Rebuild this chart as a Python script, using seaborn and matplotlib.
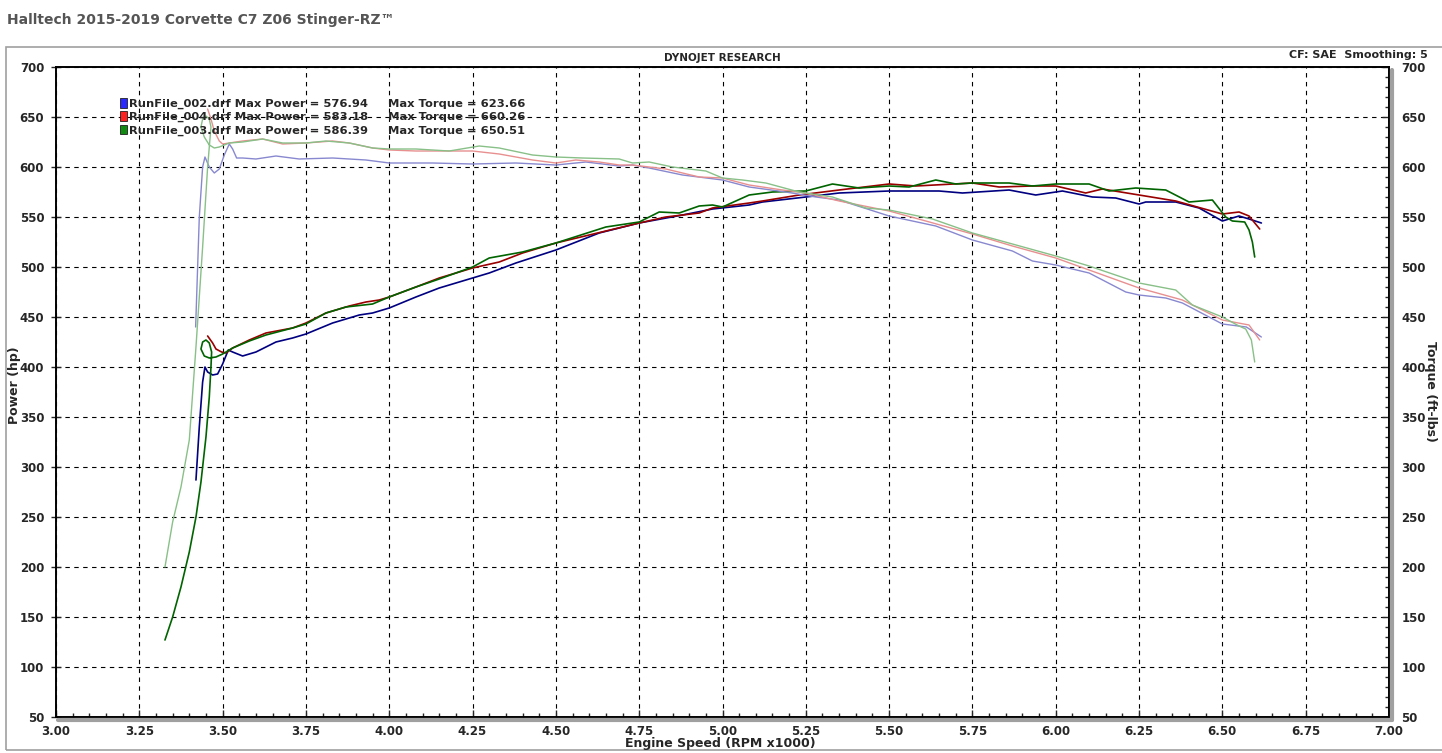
import seaborn as sns
import matplotlib.pyplot as plt
from matplotlib.patches import Patch, Rectangle
from matplotlib.lines import Line2D
from matplotlib.ticker import MultipleLocator, FormatStrFormatter

sns.set_style('white')
plt.rcParams['font.family'] = ['DejaVu Sans']
plt.rcParams['font.weight'] = 'bold'

# RunFile_002 (blue)
rpm_002_hp = [3.42, 3.43, 3.44, 3.447, 3.455, 3.47, 3.485, 3.50, 3.517, 3.53, 3.56, 3.60, 3.66, 3.71, 3.75, 3.83,
              3.91, 3.95, 4.0, 4.08, 4.15, 4.25, 4.30, 4.38, 4.5, 4.63, 4.75, 4.88, 4.97, 5.08, 5.12, 5.25, 5.35,
              5.5, 5.65, 5.72, 5.86, 5.94, 6.02, 6.11, 6.18, 6.25, 6.27, 6.36, 6.43, 6.5, 6.55, 6.58, 6.617]
hp_002 = [287, 340, 385, 400, 395, 392, 393, 403, 417, 415, 411, 415, 425, 429, 433, 444,
          452, 454, 459, 470, 479, 489, 494, 504, 517, 534, 544, 552, 558, 562, 565, 570, 574,
          576, 576, 574, 577, 572, 576, 570, 569, 563, 565, 565, 559, 546, 551, 548, 544]
rpm_002_tq = [3.419, 3.425, 3.43, 3.44, 3.447, 3.46, 3.475, 3.49, 3.505, 3.52, 3.53, 3.542, 3.56, 3.60, 3.66,
              3.73, 3.83, 3.93, 4.0, 4.13, 4.25, 4.38, 4.5, 4.59, 4.69, 4.73, 4.78, 4.88, 5.0, 5.08, 5.19,
              5.28, 5.35, 5.5, 5.64, 5.75, 5.87, 5.93, 6.0, 6.10, 6.21, 6.25, 6.33, 6.38, 6.5, 6.572, 6.617]
tq_002 = [440, 500, 550, 600, 610, 600, 594, 598, 612, 623, 618, 609, 609, 608, 611,
          608, 609, 607, 604, 604, 603, 604, 602, 605, 601, 602, 599, 592, 587, 580, 575,
          570, 567, 551, 541, 527, 516, 506, 502, 494, 475, 472, 469, 464, 443, 440, 430]

# RunFile_004 (red)
rpm_004_hp = [3.455, 3.47, 3.48, 3.497, 3.51, 3.53, 3.58, 3.63, 3.71, 3.75, 3.81, 3.88, 3.93, 3.97, 4.0, 4.08,
              4.15, 4.25, 4.33, 4.40, 4.5, 4.60, 4.75, 4.83, 4.93, 4.97, 5.08, 5.12, 5.23, 5.35, 5.5, 5.58,
              5.75, 5.83, 5.93, 6.0, 6.09, 6.14, 6.25, 6.36, 6.5, 6.55, 6.58, 6.612]
hp_004 = [431, 424, 418, 415, 414, 419, 427, 434, 439, 444, 454, 461, 465, 467, 470, 480,
          489, 499, 505, 514, 524, 532, 544, 550, 554, 559, 564, 566, 572, 577, 583, 581,
          584, 580, 581, 581, 574, 578, 572, 566, 553, 555, 551, 538]
rpm_004_tq = [3.455, 3.465, 3.475, 3.49, 3.50, 3.56, 3.62, 3.68, 3.75, 3.83, 3.88, 3.95, 4.0, 4.08, 4.18,
              4.25, 4.33, 4.43, 4.5, 4.56, 4.63, 4.69, 4.73, 4.83, 4.93, 5.0, 5.08, 5.18, 5.25, 5.35,
              5.5, 5.61, 5.75, 5.87, 6.0, 6.10, 6.25, 6.38, 6.5, 6.58, 6.612]
tq_004 = [658, 648, 636, 626, 623, 626, 628, 623, 624, 626, 624, 619, 617, 616, 616,
          616, 613, 607, 604, 607, 605, 602, 602, 598, 590, 589, 582, 577, 574, 566,
          556, 546, 533, 521, 509, 497, 479, 467, 447, 442, 427]

# RunFile_003 (green)
rpm_003_hp = [3.327, 3.35, 3.375, 3.40, 3.42, 3.435, 3.45, 3.46, 3.465, 3.467, 3.46, 3.45, 3.44, 3.435, 3.445,
              3.46, 3.48, 3.50, 3.53, 3.58, 3.63, 3.71, 3.75, 3.81, 3.87, 3.95, 4.0, 4.08, 4.15, 4.25, 4.30,
              4.40, 4.5, 4.65, 4.75, 4.81, 4.87, 4.93, 4.97, 5.0, 5.08, 5.15, 5.25, 5.33, 5.41, 5.5, 5.56,
              5.64, 5.70, 5.75, 5.86, 5.93, 6.0, 6.10, 6.16, 6.24, 6.33, 6.40, 6.47, 6.51, 6.53, 6.567,
              6.58, 6.59, 6.597]
hp_003 = [127, 150, 180, 215, 250, 285, 330, 370, 400, 415, 424, 427, 425, 418, 411,
          409, 410, 413, 419, 426, 432, 439, 443, 454, 460, 463, 470, 480, 488, 500, 509,
          515, 524, 540, 545, 555, 554, 561, 562, 560, 572, 575, 576, 583, 579, 581, 580,
          587, 583, 584, 584, 581, 583, 583, 576, 579, 577, 565, 567, 550, 546, 545,
          537, 525, 510]
rpm_003_tq = [3.327, 3.35, 3.375, 3.40, 3.42, 3.44, 3.455, 3.465, 3.46, 3.45, 3.44, 3.435, 3.445, 3.46, 3.475,
              3.49, 3.52, 3.56, 3.62, 3.68, 3.75, 3.81, 3.88, 3.95, 4.0, 4.08, 4.18, 4.27, 4.33, 4.43,
              4.5, 4.58, 4.69, 4.73, 4.78, 4.85, 4.95, 5.0, 5.06, 5.13, 5.23, 5.33, 5.43, 5.5, 5.63,
              5.75, 5.87, 6.0, 6.10, 6.25, 6.36, 6.41, 6.5, 6.55, 6.57, 6.587, 6.597]
tq_003 = [200, 245, 280, 327, 420, 520, 600, 640, 648, 651, 648, 640, 630, 622, 619,
          620, 624, 625, 628, 624, 624, 626, 624, 619, 618, 618, 616, 621, 619, 612,
          610, 609, 608, 604, 605, 600, 596, 589, 587, 584, 575, 570, 559, 557, 548,
          534, 523, 511, 501, 484, 477, 462, 450, 441, 438, 427, 405]

run_names = ['RunFile_002.drf', 'RunFile_004.drf', 'RunFile_003.drf']
max_power = ['576.94', '583.18', '586.39']
max_torque = ['623.66', '660.26', '650.51']

hp_colors = ['#000080', '#990000', '#006400']
tq_colors = ['#8888d0', '#e89090', '#88c088']
box_colors = ['#2828ff', '#ff2020', '#108a10']

W, H = 1442, 753
fig = plt.figure(figsize=(W / 100, H / 100), dpi=100)
ax = fig.add_axes([56 / W, 1 - 717 / H, (1389 - 56) / W, (717 - 67) / H])
ax2 = ax.twinx()

power_runs = [(rpm_002_hp, hp_002), (rpm_004_hp, hp_004), (rpm_003_hp, hp_003)]
torque_runs = [(rpm_002_tq, tq_002), (rpm_004_tq, tq_004), (rpm_003_tq, tq_003)]

for (x, y), c in zip(power_runs, hp_colors):
    sns.lineplot(x=x, y=y, ax=ax, color=c, lw=1.2, sort=False, estimator=None)
for (x, y), c in zip(torque_runs, tq_colors):
    sns.lineplot(x=x, y=y, ax=ax2, color=c, lw=1.0, sort=False, estimator=None)

for a in (ax, ax2):
    a.set_xlim(3.0, 7.0)
    a.set_ylim(50, 700)
    a.set_xlabel('')
    a.set_ylabel('')
    for s in a.spines.values():
        s.set_color('black')
        s.set_linewidth(1.2)

ax.xaxis.set_major_locator(MultipleLocator(0.25))
ax.xaxis.set_minor_locator(MultipleLocator(0.05))
ax.xaxis.set_major_formatter(FormatStrFormatter('%.2f'))
ax.yaxis.set_major_locator(MultipleLocator(50))
ax2.yaxis.set_major_locator(MultipleLocator(50))
ax2.yaxis.set_minor_locator(MultipleLocator(10))

ax.grid(True, which='major', color='black', ls=(0, (4, 4)), lw=0.8)
ax.set_axisbelow(True)
ax2.grid(False)

ax.tick_params(axis='x', which='major', direction='in', length=5, width=1, labelsize=8.5, pad=6, bottom=True)
ax.tick_params(axis='x', which='minor', direction='in', length=3, width=1, bottom=True)
ax.tick_params(axis='y', which='major', direction='inout', length=7, width=1, labelsize=8.5, pad=5, left=True)
ax2.tick_params(axis='y', which='major', direction='in', length=5, width=1, labelsize=8.5, pad=9, right=True)
ax2.tick_params(axis='y', which='minor', direction='in', length=3, width=1, right=True)

# grey drop shadow along bottom and right axes
fig.add_artist(Line2D([58 / W, 1391.5 / W], [1 - 719.5 / H, 1 - 719.5 / H],
                      transform=fig.transFigure, color='#a0a0a0', lw=3))
fig.add_artist(Line2D([1391.5 / W, 1391.5 / W], [1 - 70 / H, 1 - 719.5 / H],
                      transform=fig.transFigure, color='#a0a0a0', lw=3))

# outer panel frame
fig.add_artist(Rectangle((6 / W, 3 / H), 1.0, (750 - 47) / H, transform=fig.transFigure,
                         fill=False, edgecolor='#a0a0a0', lw=1.2))

fig.text(7 / W, 1 - 20 / H, 'Halltech 2015-2019 Corvette C7 Z06 Stinger-RZ\u2122',
         fontsize=10, color='#555555', ha='left', va='center')
fig.text(722 / W, 1 - 58 / H, 'DYNOJET RESEARCH', fontsize=7.5, ha='center', va='center')
fig.text(1428 / W, 1 - 55 / H, 'CF: SAE  Smoothing: 5', fontsize=8, ha='right', va='center')
fig.text(720 / W, 1 - 743 / H, 'Engine Speed (RPM x1000)', fontsize=9, ha='center', va='center')
fig.text(15 / W, 1 - 385 / H, 'Power (hp)', fontsize=9, rotation=90, ha='center', va='center')
fig.text(1431 / W, 1 - 391 / H, 'Torque (ft-lbs)', fontsize=9, rotation=-90, ha='center', va='center')

handles = [Patch(facecolor=c, edgecolor='#202020', lw=0.6) for c in box_colors]
labels = [f'{n} Max Power = {p}     Max Torque = {t}' for n, p, t in zip(run_names, max_power, max_torque)]
ax2.legend(handles, labels, loc='upper left', bbox_to_anchor=((120 - 56) / 1333, 1 - (98 - 67) / 650),
           frameon=False, fontsize=8.25, handlelength=0.65, handleheight=0.9, handletextpad=0.15,
           labelspacing=0.2, borderpad=0, borderaxespad=0)

fig.savefig('out.png', dpi=100)
